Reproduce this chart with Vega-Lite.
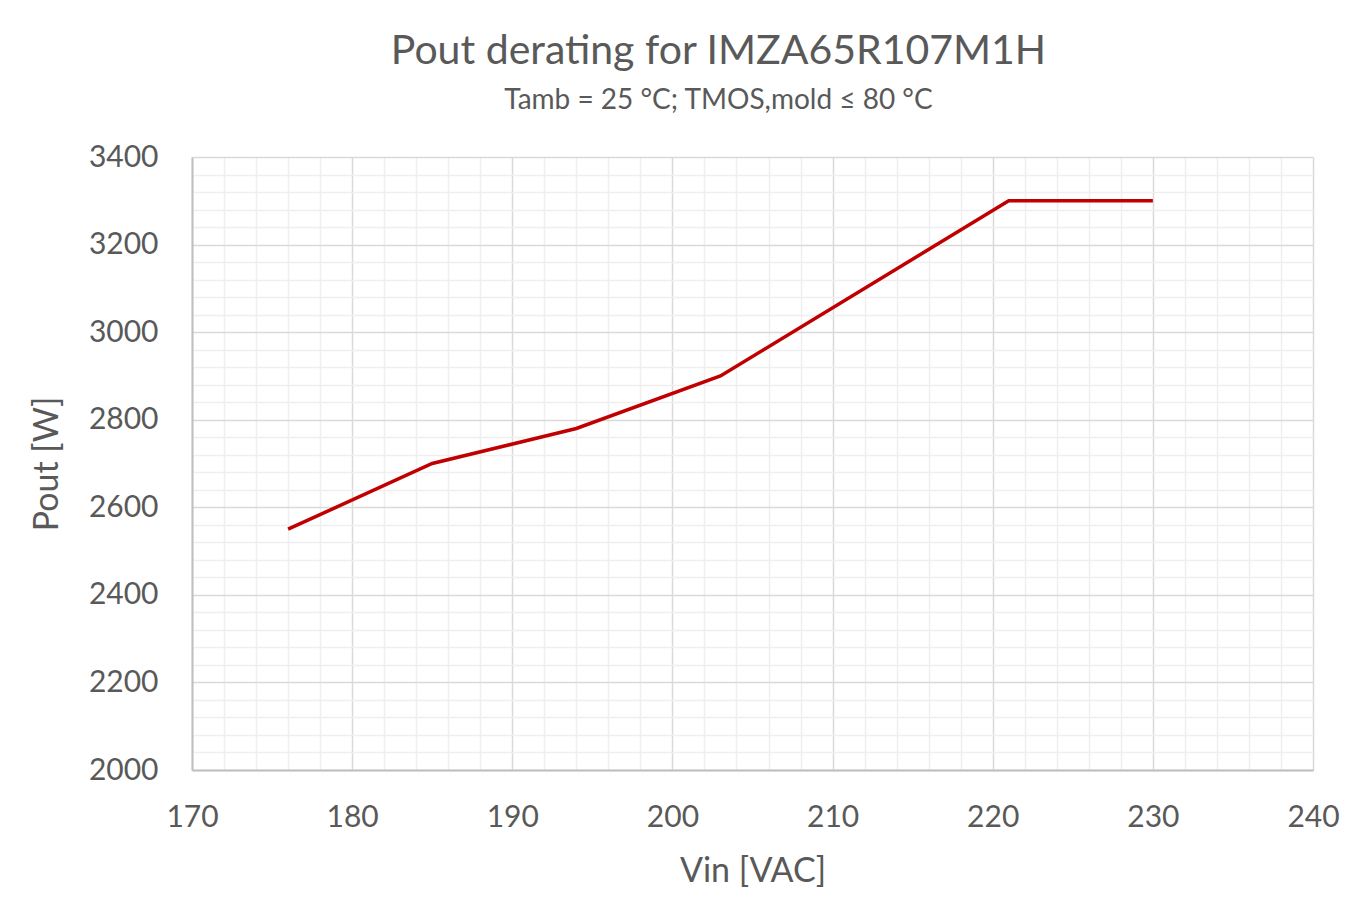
{
  "$schema": "https://vega.github.io/schema/vega-lite/v6.json",
  "autosize": "none",
  "width": 1121,
  "height": 613,
  "padding": {"left": 192, "top": 157, "right": 57, "bottom": 141},
  "background": "white",
  "config": {
    "font": "Lato",
    "view": {"stroke": null},
    "axis": {"labelFont": "Lato", "titleFont": "Lato", "labelColor": "#595959", "titleColor": "#595959", "titleFontWeight": "normal"}
  },
  "title": {
    "text": "Pout derating for IMZA65R107M1H",
    "subtitle": "Tamb = 25 °C; TMOS,mold ≤ 80 °C",
    "anchor": "middle",
    "frame": "group",
    "dx": -34,
    "offset": 26,
    "font": "Lato",
    "fontSize": 41,
    "fontWeight": "normal",
    "color": "#595959",
    "subtitleFont": "Lato",
    "subtitleFontSize": 28,
    "subtitleColor": "#595959",
    "subtitlePadding": 14
  },
  "data": {
    "values": [
      {"vin": 176, "pout": 2550},
      {"vin": 185, "pout": 2700},
      {"vin": 194, "pout": 2780},
      {"vin": 203, "pout": 2900},
      {"vin": 221, "pout": 3300},
      {"vin": 230, "pout": 3300}
    ]
  },
  "mark": {"type": "line", "color": "#c00000", "strokeWidth": 3.5},
  "encoding": {
    "x": {
      "field": "vin",
      "type": "quantitative",
      "scale": {"domain": [170, 240], "nice": false, "zero": false},
      "axis": {
        "title": "Vin [VAC]",
        "titleFontSize": 34,
        "titlePadding": 22,
        "values": [170,172,174,176,178,180,182,184,186,188,190,192,194,196,198,200,202,204,206,208,210,212,214,216,218,220,222,224,226,228,230,232,234,236,238,240],
        "labelExpr": "datum.value % 10 === 0 ? datum.label : ''",
        "labelFontSize": 30,
        "labelPadding": 32,
        "labelFlush": false,
        "labelOverlap": false,
        "ticks": false,
        "domainColor": "#bfbfbf",
        "domainWidth": 2,
        "grid": true,
        "gridWidth": 1.5,
        "gridColor": {"condition": {"test": "datum.value % 10 === 0", "value": "#d9d9d9"}, "value": "#efefef"}
      }
    },
    "y": {
      "field": "pout",
      "type": "quantitative",
      "scale": {"domain": [2000, 3400], "nice": false, "zero": false},
      "axis": {
        "title": "Pout [W]",
        "titleFontSize": 34,
        "titlePadding": 24,
        "values": [2000,2040,2080,2120,2160,2200,2240,2280,2320,2360,2400,2440,2480,2520,2560,2600,2640,2680,2720,2760,2800,2840,2880,2920,2960,3000,3040,3080,3120,3160,3200,3240,3280,3320,3360,3400],
        "labelExpr": "datum.value % 200 === 0 ? datum.label : ''",
        "format": "d",
        "labelFontSize": 30,
        "labelPadding": 34,
        "labelFlush": false,
        "labelOverlap": false,
        "ticks": false,
        "domainColor": "#bfbfbf",
        "domainWidth": 2,
        "grid": true,
        "gridWidth": 1.5,
        "gridColor": {"condition": {"test": "datum.value % 200 === 0", "value": "#d9d9d9"}, "value": "#efefef"}
      }
    }
  }
}
